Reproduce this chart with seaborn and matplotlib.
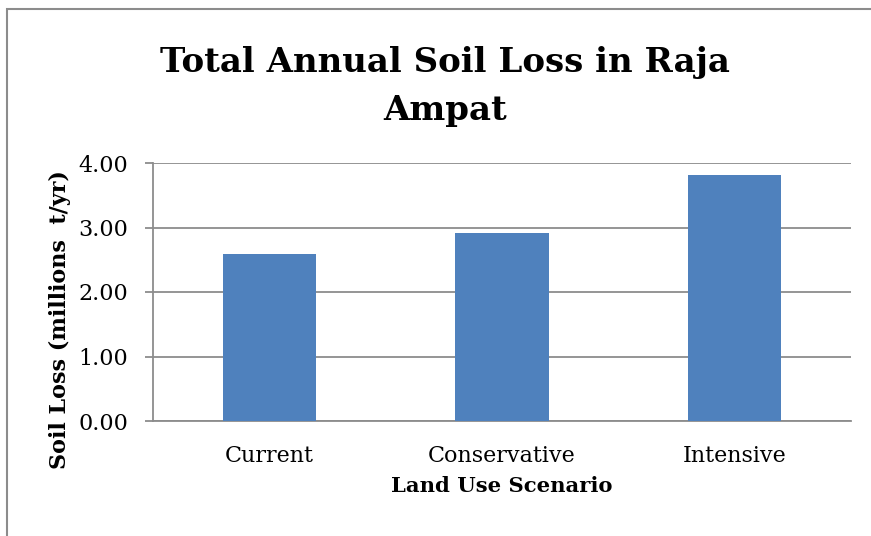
import matplotlib
matplotlib.use("Agg")
import matplotlib.pyplot as plt
from matplotlib.patches import Rectangle
import seaborn as sns

scenarios = ["Current", "Conservative", "Intensive"]
soil_loss = [2.59, 2.91, 3.81]
y_ticks = [0.0, 1.0, 2.0, 3.0, 4.0]

sns.set_theme(style="white")
plt.rcParams["font.family"] = ["DejaVu Serif"]
plt.rcParams["text.color"] = "black"
plt.rcParams["axes.labelcolor"] = "black"

W, H = 871, 536
fig = plt.figure(figsize=(W / 100, H / 100), dpi=100)
ax = fig.add_axes([153 / W, 1 - 421 / H, (851 - 153) / W, (421 - 163) / H])

sns.barplot(x=scenarios, y=soil_loss, color="#4F81BD", saturation=1,
            width=0.4, linewidth=0, ax=ax, zorder=3)

grid_c = "#8C8C8C"
ax.set_ylim(0, 4)
ax.set_yticks(y_ticks)
ax.set_yticklabels([f"{t:.2f}" for t in y_ticks])
ax.yaxis.grid(True, color=grid_c, linewidth=1.3, zorder=0)
ax.set_axisbelow(True)
for s in ["top", "right"]:
    ax.spines[s].set_visible(False)
for s in ["left", "bottom"]:
    ax.spines[s].set_color(grid_c)
    ax.spines[s].set_linewidth(1.3)
ax.tick_params(axis="y", which="major", left=True, length=6, width=1.3,
               color=grid_c, labelsize=16, pad=12, labelcolor="black")
ax.tick_params(axis="x", bottom=False, labelsize=16, pad=11, labelcolor="black")

ax.set_xlabel("Land Use Scenario", fontsize=15.2, fontweight="bold", labelpad=7)
ax.set_ylabel("Soil Loss (millions  t/yr)", fontsize=16, fontweight="bold")
ax.yaxis.set_label_coords(71 / W, 1 - 320 / H, transform=fig.transFigure)

fig.text(445 / W, 1 - 72 / H, "Total Annual Soil Loss in Raja",
         ha="center", va="baseline", fontsize=24.5, fontweight="bold")
fig.text(445 / W, 1 - 120 / H, "Ampat",
         ha="center", va="baseline", fontsize=24.5, fontweight="bold")

fig.patches.append(Rectangle((7 / W, -0.1), 1.2, 1 - 9 / H + 0.1,
                             transform=fig.transFigure, fill=False,
                             edgecolor="#8C8C8C", linewidth=1.5))

fig.savefig("out.png", dpi=100, facecolor="white")
